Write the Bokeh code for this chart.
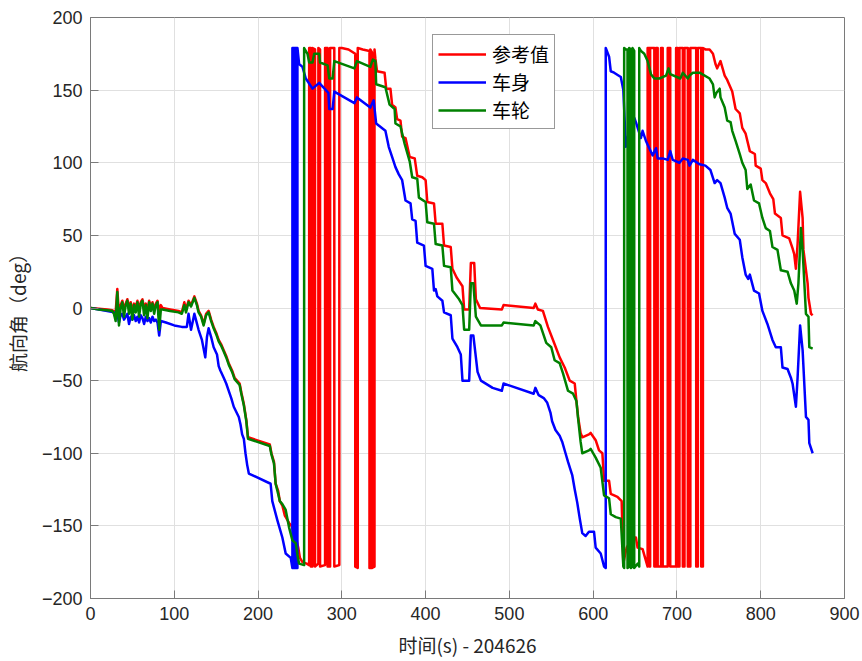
from bokeh.plotting import figure
from bokeh.models import Range1d, FixedTicker, Legend, LegendItem, ColumnDataSource
from bokeh.embed import file_html
from bokeh.resources import INLINE

# ---------------- data ----------------
x_ticks = [0, 100, 200, 300, 400, 500, 600, 700, 800, 900]
y_ticks = [-200, -150, -100, -50, 0, 50, 100, 150, 200]
series_names = ["参考值", "车身", "车轮"]
x_label = "时间(s) - 204626"
y_label = "航向角（deg）"

ref_t = [0, 10, 20, 26, 30, 32, 34, 36, 38, 40, 42, 44, 46, 48, 50, 52, 54, 56, 58, 60, 62, 64, 66, 68, 70, 72, 74, 76, 78, 80, 82, 84, 86,
         95, 105, 109, 112, 114, 117, 120, 124, 127, 129, 132, 135, 138, 141, 144, 147, 150, 153, 156, 159, 162, 165, 169, 172, 178, 180, 183, 186, 188,
         214, 216, 219, 221, 224, 226, 229, 232, 237, 240, 243, 246, 248, 250, 253, 258, 261,
         261, 263, 263, 265, 265, 268, 268, 272, 272, 274, 274, 280, 280, 283, 283, 286, 286, 291, 291, 297, 297, 300, 308, 316, 316, 319, 319, 325, 333, 333, 334, 334, 336, 336, 339, 339,
         340, 342, 351, 353, 358, 360, 364, 366, 370, 372, 376, 381, 387, 390, 396, 400, 402, 410, 412, 420, 422, 430, 432, 437, 444, 446, 452, 454, 458, 460, 465,
         491, 493, 529, 531, 534, 540, 546, 554, 560, 566, 572, 578, 580, 582, 585, 587, 595, 597, 603, 607, 611, 613, 619, 621, 629, 634, 636, 638, 640, 647, 651, 653, 659, 662, 665,
         665, 667, 667, 668, 668, 673, 673, 675, 675, 677, 677, 681, 681, 683, 683, 689, 689, 692, 692, 699, 699, 701, 701, 703, 703, 707, 707, 709, 709, 713, 713, 716, 716, 723, 723, 725, 725, 729, 729, 731, 731,
         734, 739, 743, 746, 748, 752, 757, 760, 763, 766, 770, 775, 778, 782, 787, 793, 794, 800, 802, 806, 811, 815, 817, 824, 826, 834, 838, 840, 842, 844, 847, 850, 851, 856, 857, 860, 862]
ref_y = [0, -0.5, -1, -1.5, -3, 13, -4, 2, 5, -1, 3, 6, 0, 4, -2, 3, 1, 5, -1, 4, 6, 0, 3, -2, 5, 1, 4, -1, 3, 5, -3, 2, 0,
         -1, -2, -3, 4, -1, 5, 2, 8, 3, -2, -5, -11, -4, -2, -8, -13, -17, -22, -25, -29, -33, -38, -43, -48, -52, -58, -66, -77, -89,
         -94, -100, -106, -121, -126, -133, -136, -143, -148, -150, -155, -160, -165, -172, -175, -176, -177,
         179, 179, -178, -178, 179, 178, -178, -176, 179, 178, -178, -177, 179, 179, -178, -178, 179, 179, -178, -177, 179, 179, 178, 175, -178, -179, 179, 178, 177, -179, -179, 178, 176, -179, -178, 178,
         172, 163, 162, 151, 151, 140, 138, 130, 129, 118, 117, 104, 103, 91, 90, 88, 73, 72, 58, 58, 43, 42, 27, 21, 15, -1, -1, 31, 31, 6, 0,
         -1, 2, 0, 3, -1, -2, -13, -25, -34, -41, -50, -52, -64, -75, -86, -89, -87, -86, -91, -98, -100, -119, -119, -128, -130, -133, -176, -170, -165, -158, -158, -165, -166, -172, -178,
         179, 179, -178, -178, 179, 179, -178, -178, 179, 179, -178, -178, 179, 179, -178, -178, 179, 179, -178, -178, 179, 179, -178, -178, 179, 179, -178, -178, 179, 179, -178, -178, 179, 179, -178, -178, 179, 179, -178, -178, 179,
         178, 178, 175, 168, 165, 170, 160, 157, 153, 149, 137, 134, 124, 120, 108, 106, 98, 96, 88, 86, 79, 75, 65, 62, 50, 48, 41, 37, 27, 44, 80, 62, 40, 17, 7, -4, -5]

body_t = [0, 10, 20, 28, 30, 32, 34, 36, 38, 40, 42, 44, 46, 48, 50, 52, 54, 56, 58, 60, 62, 64, 66, 68, 70, 72, 74, 76, 78, 80, 82, 84, 90, 100,
          109, 115, 117, 120, 124, 129, 133, 137, 139, 141, 144, 147, 151, 153, 155, 159, 162, 165, 168, 171, 177, 179, 181, 183, 185, 187, 189,
          215, 217, 223, 229, 233, 239, 241,
          241, 242, 242, 243, 243, 244, 244, 245, 245, 246, 246, 247, 247,
          249, 253, 257, 265, 273, 281, 284, 285, 289, 291, 315, 318, 334, 338, 341, 352, 356, 360, 364, 368, 372, 376, 382, 384, 388, 390, 398, 400, 408, 410, 412, 414, 420,
          422, 430, 432, 438, 442, 444, 452, 454, 457, 462, 466, 480, 491, 493, 529, 531, 535, 541, 545, 549, 551, 555, 560, 563, 567, 570, 575, 578, 581, 584, 587,
          591, 595, 601, 603, 609, 613, 615,
          615, 619, 621, 625, 633, 636, 639, 643, 647, 649, 651, 657, 659, 663, 667, 671, 675, 677, 683, 689, 692, 695, 703, 707, 713, 715, 719, 727, 734, 740,
          745, 748, 752, 757, 760, 764, 769, 775, 778, 782, 785, 787, 792, 798, 802, 808, 814, 818, 824, 826, 832, 836, 838, 842, 844, 847, 850, 852, 854, 857, 858, 862]
body_y = [0, -1, -2, -3, -7, -4, -10, -5, -4, -8, -6, -4, -11, -6, -8, -5, -9, -6, -10, -5, -7, -11, -6, -9, -7, -10, -6, -9, -8, -10, -19, -9, -10, -12,
          -13, -13, -4, -15, -4, -15, -22, -34, -20, -14, -20, -27, -32, -40, -43, -48, -52, -57, -62, -68, -75, -80, -87, -90, -100, -108, -114,
          -121, -133, -146, -158, -169, -172, -179,
          179, 179, -179, -179, 179, 179, -179, -179, 179, 179, -179, -179, 179,
          168, 166, 158, 151, 155, 150, 148, 137, 137, 149, 141, 145, 138, 143, 127, 122, 111, 104, 97, 92, 88, 74, 72, 61, 60, 45, 43, 29, 27, 12, 13, 8, 5,
          -3, -5, -21, -27, -32, -50, -50, -19, -19, -44, -50, -55, -57, -52, -59, -55, -60, -62, -65, -72, -78, -84, -88, -92, -100, -106, -115, -125, -134, -145, -155,
          -157, -154, -154, -165, -169, -178, -179,
          179, 173, 163, 162, 159, 150, 111, 122, 130, 131, 128, 117, 122, 115, 110, 105, 110, 103, 103, 102, 108, 102, 100, 103, 102, 98, 102, 99, 98, 95,
          86, 88, 86, 76, 69, 65, 51, 47, 35, 23, 20, 23, 12, 10, -2, -11, -22, -27, -27, -41, -42, -48, -52, -68, -48, -12, -29, -52, -75, -77, -93, -100]

wheel_t = [0, 10, 20, 26, 28, 30, 32, 34, 36, 38, 40, 42, 44, 46, 48, 50, 52, 54, 56, 58, 60, 62, 64, 66, 68, 70, 72, 74, 76, 78, 80, 82, 84, 86,
           95, 105, 109, 112, 114, 117, 120, 124, 127, 129, 132, 135, 138, 141, 144, 147, 150, 153, 156, 159, 162, 165, 169, 172, 178, 180, 183, 186, 188,
           214, 216, 219, 221, 224, 226, 229, 233, 237, 241, 245, 247, 249, 255,
           255, 259, 261, 265, 267, 273, 274, 283, 285, 289, 291, 315, 318, 334, 337, 340, 341, 352, 357, 363, 364, 370, 375, 381, 384, 390, 392, 400, 402, 410,
           412, 420, 422, 430, 432, 440, 444, 446, 452, 454, 457, 460, 466, 491, 493, 529, 531, 537, 544, 550, 554, 560, 564, 570, 576, 580, 582, 585, 587,
           595, 597, 603, 609, 613, 619, 621, 627, 633, 636, 637,
           637, 639, 641, 641, 643, 643, 645, 645, 647, 647, 649, 649, 653, 655, 655,
           657, 661, 665, 669, 673, 679, 687, 690, 692, 704, 707, 713, 715, 719, 727, 739, 743, 745, 747, 751, 752, 757, 760, 764, 766, 770, 775, 778, 782,
           784, 788, 792, 798, 802, 806, 811, 814, 820, 824, 832, 836, 840, 843, 845, 848, 850, 854, 857, 858, 862]
wheel_y = [0, -1, -1.5, -2, -4, -9, 11, -12, 0, 4, -6, 2, 5, -4, 3, -8, 2, -3, 4, -6, 3, 5, -5, 2, -7, 4, -2, 3, -4, 2, 4, -15, -1, -1,
           -2, -3, -4, 2, -3, 4, 1, 7, 2, -3, -6, -12, -5, -3, -9, -14, -18, -23, -26, -30, -34, -39, -44, -49, -53, -59, -67, -78, -90,
           -95, -101, -107, -121, -128, -133, -135, -139, -151, -160, -162, -170, -176, -177,
           179, 175, 169, 169, 175, 175, 169, 167, 158, 158, 170, 165, 170, 166, 171, 170, 154, 152, 140, 137, 127, 125, 113, 101, 90, 89, 76, 73, 59, 58,
           44, 43, 29, 28, 12, 6, 2, -15, -15, 17, 17, -6, -12, -12, -10, -12, -9, -12, -24, -27, -36, -38, -45, -57, -59, -64, -76, -92, -100,
           -98, -97, -103, -110, -129, -131, -142, -144, -145, -178, -179,
           179, 178, 178, -179, -178, 179, 178, -179, -178, 179, 177, -179, -176, -178, 179,
           177, 175, 170, 161, 158, 158, 160, 165, 161, 158, 162, 158, 160, 162, 162, 158, 154, 145, 148, 151, 145, 138, 129, 128, 122, 115, 106, 100, 95,
           82, 85, 74, 72, 62, 55, 53, 42, 40, 26, 25, 17, 12, 3, 17, 55, 40, -4, -6, -27, -28]

colors = ["#ff0000", "#0000ff", "#008000"]

# ---------------- figure ----------------
p = figure(frame_width=754, frame_height=581,
           x_range=Range1d(0, 900), y_range=Range1d(-200, 200),
           output_backend="svg", toolbar_location=None,
           min_border_left=88, min_border_right=20, min_border_top=17, min_border_bottom=63,
           background_fill_color="white", border_fill_color="white")

axis_col = "#7a7a7a"
txt_col = "#262626"
p.outline_line_color = axis_col
p.outline_line_width = 1

for ax, tk in ((p.xaxis[0], x_ticks), (p.yaxis[0], y_ticks)):
    ax.ticker = FixedTicker(ticks=tk)
    ax.axis_line_color = axis_col
    ax.major_tick_line_color = axis_col
    ax.major_tick_in = 8
    ax.major_tick_out = 0
    ax.minor_tick_line_color = None
    ax.major_label_text_font = "Liberation Sans"
    ax.major_label_text_font_size = "18px"
    ax.major_label_text_color = txt_col
    ax.major_label_standoff = 8
    ax.axis_label_text_font = "Noto Sans CJK SC"
    ax.axis_label_text_font_size = "19px"
    ax.axis_label_text_font_style = "normal"
    ax.axis_label_text_color = txt_col
    ax.axis_label_standoff = 8

p.xaxis.axis_label = x_label
p.yaxis.axis_label = y_label

p.xgrid.ticker = FixedTicker(ticks=x_ticks)
p.ygrid.ticker = FixedTicker(ticks=y_ticks)
for g in (p.xgrid[0], p.ygrid[0]):
    g.grid_line_color = "#e0e0e0"
    g.grid_line_width = 1

renderers = []
for (tt, yy), c in zip(((ref_t, ref_y), (body_t, body_y), (wheel_t, wheel_y)), colors):
    src = ColumnDataSource(data=dict(t=tt, y=yy))
    r = p.line("t", "y", source=src, line_color=c, line_width=2.5, line_join="round")
    renderers.append(r)

legend = Legend(items=[LegendItem(label=n, renderers=[r]) for n, r in zip(series_names, renderers)],
                location=(342, 469))
legend.label_text_font = "Noto Sans CJK SC"
legend.label_text_font_size = "19px"
legend.label_text_color = "#000000"
legend.border_line_color = "#333333"
legend.border_line_width = 1
legend.background_fill_color = "white"
legend.background_fill_alpha = 1
legend.glyph_width = 48
legend.glyph_height = 20
legend.label_height = 20
legend.label_standoff = 6
legend.spacing = 1
legend.padding = 5
legend.margin = 0
p.add_layout(legend)

open("out.html", "w").write(file_html(p, INLINE))
